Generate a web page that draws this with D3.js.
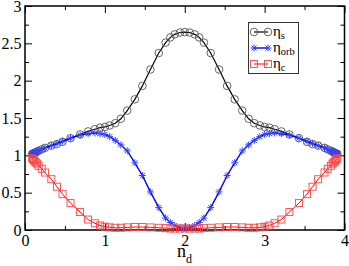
<!DOCTYPE html>
<html>
<head>
<meta charset="utf-8">
<script src="https://cdn.jsdelivr.net/npm/d3@7"></script>
<style>
	body { margin: 0; background: #fff; }
	svg { display: block; }
	.tick text { font-family: "Liberation Serif", "Times New Roman", serif; font-size: 16px; fill: #000; }
</style>
</head>
<body>
<div id="chart"></div>
<script>
// n_d positions (shared by all three sets)
var nd = [0.09, 0.10, 0.11, 0.12, 0.135, 0.15, 0.17, 0.21, 0.25, 0.33, 0.40, 0.47, 0.57, 0.69, 0.79, 0.875,
	0.94, 1.00, 1.06, 1.13, 1.20, 1.28, 1.375, 1.47, 1.57, 1.675, 1.76, 1.82, 1.875, 1.94, 2.00,
	2.06, 2.125, 2.18, 2.24, 2.325, 2.43, 2.53, 2.625, 2.72, 2.80, 2.87, 2.94, 3.00, 3.06, 3.125,
	3.21, 3.31, 3.43, 3.53, 3.60, 3.67, 3.75, 3.79, 3.83, 3.85, 3.865, 3.88, 3.89, 3.90, 3.91];

var eta_s = [1.02, 1.02, 1.025, 1.03, 1.04, 1.05, 1.06, 1.08, 1.10, 1.13, 1.15, 1.18, 1.23, 1.28, 1.32, 1.35,
	1.37, 1.38, 1.40, 1.43, 1.49, 1.60, 1.75, 1.93, 2.15, 2.37, 2.51, 2.58, 2.62, 2.645, 2.65,
	2.645, 2.62, 2.58, 2.51, 2.37, 2.15, 1.93, 1.75, 1.60, 1.49, 1.43, 1.40, 1.38, 1.37, 1.35,
	1.32, 1.28, 1.23, 1.18, 1.15, 1.13, 1.10, 1.08, 1.06, 1.05, 1.04, 1.03, 1.025, 1.02, 1.02];

var eta_orb = [1.02, 1.03, 1.035, 1.04, 1.045, 1.05, 1.06, 1.08, 1.10, 1.13, 1.16, 1.19, 1.23, 1.27, 1.29, 1.30,
	1.29, 1.28, 1.25, 1.20, 1.14, 1.06, 0.90, 0.73, 0.51, 0.30, 0.16, 0.10, 0.06, 0.035, 0.025,
	0.035, 0.06, 0.10, 0.16, 0.30, 0.51, 0.73, 0.90, 1.06, 1.14, 1.20, 1.25, 1.28, 1.29, 1.30,
	1.29, 1.27, 1.23, 1.19, 1.16, 1.13, 1.10, 1.08, 1.06, 1.05, 1.045, 1.04, 1.035, 1.03, 1.02];

var eta_c = [0.96, 0.95, 0.935, 0.92, 0.905, 0.89, 0.86, 0.82, 0.77, 0.68, 0.58, 0.48, 0.36, 0.24, 0.14, 0.09,
	0.06, 0.045, 0.035, 0.03, 0.03, 0.035, 0.04, 0.04, 0.035, 0.03, 0.025, 0.02, 0.02, 0.02, 0.02,
	0.02, 0.02, 0.02, 0.025, 0.03, 0.035, 0.04, 0.04, 0.035, 0.03, 0.03, 0.035, 0.045, 0.06, 0.09,
	0.14, 0.24, 0.36, 0.48, 0.58, 0.68, 0.77, 0.82, 0.86, 0.89, 0.905, 0.92, 0.935, 0.95, 0.96];

var x_ticks = [0, 1, 2, 3, 4];
var y_ticks = [0, 0.5, 1, 1.5, 2, 2.5, 3];
var x_minor = [0.5, 1.5, 2.5, 3.5];
var y_minor = [0.25, 0.75, 1.25, 1.75, 2.25, 2.75];

(function(){
	var sets = [
		{name: "s", values: eta_s, color: "#000000", mark: "#555555", symbol: "circle", width: 1.2},
		{name: "orb", values: eta_orb, color: "#0000ff", mark: "#3344ff", symbol: "star", width: 1.4},
		{name: "c", values: eta_c, color: "#ff0000", mark: "#ff4444", symbol: "square", width: 1}
	];

	var W = 349, H = 266;
	var x0 = 25, x1 = 344.5, y0 = 230, y1 = 6;

	var svg = d3.select("#chart").append("svg")
		.attr("width", W)
		.attr("height", H)

	var x = d3.scaleLinear().domain([0, 4]).range([x0, x1]);
	var y = d3.scaleLinear().domain([0, 3]).range([y0, y1]);

	// ticks without labels (minor ones, and the mirrored top/right ones)
	function bare(axis, pos) {
		var g = svg.append("g").attr("transform", pos).call(axis);
		g.select(".domain").remove();
		g.selectAll("text").remove();
		g.selectAll("line").attr("stroke", "#000").attr("stroke-width", 1);
	}
	bare(d3.axisBottom(x).tickValues(x_minor).tickSize(-4), "translate(0," + y0 + ")");
	bare(d3.axisTop(x).tickValues(x_minor).tickSize(-4), "translate(0," + y1 + ")");
	bare(d3.axisLeft(y).tickValues(y_minor).tickSize(-4), "translate(" + x0 + ",0)");
	bare(d3.axisRight(y).tickValues(y_minor).tickSize(-4), "translate(" + x1 + ",0)");
	bare(d3.axisTop(x).tickValues(x_ticks).tickSize(-7), "translate(0," + y1 + ")");
	bare(d3.axisRight(y).tickValues(y_ticks).tickSize(-7), "translate(" + x1 + ",0)");

	var xg = svg.append("g")
		.attr("transform", "translate(0," + y0 + ")")
		.call(d3.axisBottom(x).tickValues(x_ticks).tickSize(-7).tickPadding(5).tickFormat(d3.format("d")));
	xg.select(".domain").remove();

	var yg = svg.append("g")
		.attr("transform", "translate(" + x0 + ",0)")
		.call(d3.axisLeft(y).tickValues(y_ticks).tickSize(-7).tickPadding(3.5).tickFormat(function(d){ return String(d); }));
	yg.select(".domain").remove();

	// frame
	svg.append("rect")
		.attr("x", x0)
		.attr("y", y1)
		.attr("width", x1 - x0)
		.attr("height", y0 - y1)
		.attr("fill", "none")
		.attr("stroke", "#000")
		.attr("stroke-width", 1.5)

	var line = d3.line()
		.x(function(d){ return x(d[0]); })
		.y(function(d){ return y(d[1]); });

	function draw_symbol(g, kind, cx, cy, col) {
		if (kind == "circle") {
			g.append("circle")
			.attr("cx", cx)
			.attr("cy", cy)
			.attr("r", 3.8)
			.attr("fill", "none")
			.attr("stroke", col)
			.attr("stroke-width", 0.9)
		} else if (kind == "square") {
			g.append("rect")
			.attr("x", cx - 3.5)
			.attr("y", cy - 3.5)
			.attr("width", 7)
			.attr("height", 7)
			.attr("fill", "none")
			.attr("stroke", col)
			.attr("stroke-width", 0.9)
		} else {
			var r = 3.5, q = 2.5;
			g.append("path")
			.attr("d", "M" + (cx - r) + "," + cy + "H" + (cx + r) +
				"M" + cx + "," + (cy - r) + "V" + (cy + r) +
				"M" + (cx - q) + "," + (cy - q) + "L" + (cx + q) + "," + (cy + q) +
				"M" + (cx - q) + "," + (cy + q) + "L" + (cx + q) + "," + (cy - q))
			.attr("fill", "none")
			.attr("stroke", col)
			.attr("stroke-width", 1)
		}
	}

	var plot = svg.append("g");
	sets.forEach(function(s){
		var pts = nd.map(function(v, i){ return [v, s.values[i]]; });
		var g = plot.append("g").attr("class", "set_" + s.name);
		g.append("path")
			.datum(pts)
			.attr("d", line)
			.attr("fill", "none")
			.attr("stroke", s.color)
			.attr("stroke-width", s.width)
		pts.forEach(function(p){
			draw_symbol(g, s.symbol, x(p[0]), y(p[1]), s.mark);
		});
	});

	// legend
	var lg = svg.append("g");
	lg.append("rect")
		.attr("x", 248.5)
		.attr("y", 22.5)
		.attr("width", 50)
		.attr("height", 51)
		.attr("fill", "#fff")
		.attr("stroke", "#333")
		.attr("stroke-width", 1)

	sets.forEach(function(s, i){
		var ly = 32 + i * 16;
		lg.append("line")
			.attr("x1", 254)
			.attr("x2", 268)
			.attr("y1", ly)
			.attr("y2", ly)
			.attr("stroke", s.color)
			.attr("stroke-width", s.width)
		draw_symbol(lg, s.symbol, 254, ly, s.mark);
		draw_symbol(lg, s.symbol, 268, ly, s.mark);
		var t = lg.append("text")
			.attr("x", 273)
			.attr("y", ly + 4)
			.attr("font-family", "Liberation Serif, Times New Roman, serif")
			.attr("font-size", "15px")
			.text("η")
		t.append("tspan")
			.attr("dy", 3)
			.attr("font-size", "10.5px")
			.text(s.name)
	});

	// axis title
	var xt = svg.append("text")
		.attr("x", 177)
		.attr("y", 257)
		.attr("font-family", "Liberation Serif, Times New Roman, serif")
		.attr("font-size", "18px")
		.text("n")
	xt.append("tspan")
		.attr("dy", 6)
		.attr("font-size", "12px")
		.text("d")
})();
</script>
</body>
</html>
